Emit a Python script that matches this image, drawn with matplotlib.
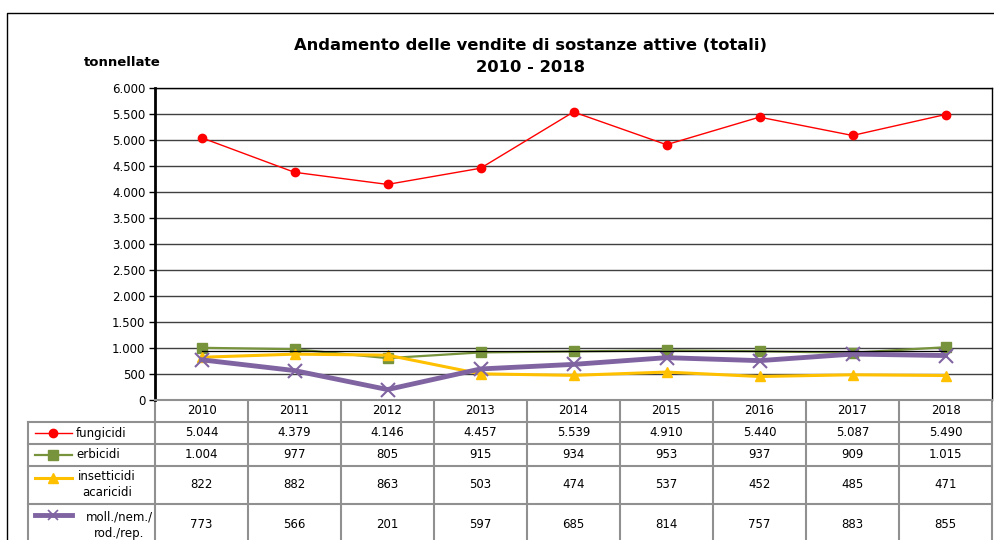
import matplotlib.pyplot as plt
import numpy as np
from matplotlib.ticker import FuncFormatter
from matplotlib.transforms import blended_transform_factory

# dati (tonnellate)
anni = ['2010', '2011', '2012', '2013', '2014', '2015', '2016', '2017', '2018']
fungicidi = [5044, 4379, 4146, 4457, 5539, 4910, 5440, 5087, 5490]
erbicidi = [1004, 977, 805, 915, 934, 953, 937, 909, 1015]
insetticidi = [822, 882, 863, 503, 474, 537, 452, 485, 471]
molluschicidi = [773, 566, 201, 597, 685, 814, 757, 883, 855]

nomi = ['fungicidi', 'erbicidi', 'insetticidi\nacaricidi', 'moll./nem./\nrod./rep.']
serie = [fungicidi, erbicidi, insetticidi, molluschicidi]
colori = ['#ff0000', '#77933c', '#ffc000', '#8064a2']
marker = ['o', 's', '^', 'x']
spessori = [1.0, 1.6, 2.2, 3.5]
dim_marker = [6, 7, 7, 10]


def fmt(v):
    return f"{int(v):,}".replace(',', '.')


W, H = 994, 540
fig = plt.figure(figsize=(W / 100, H / 100), dpi=100)

# overlay in pixel per cornice e tabella
ov = fig.add_axes([0, 0, 1, 1], zorder=0)
ov.set_xlim(0, W)
ov.set_ylim(H, 0)
ov.axis('off')

ax = fig.add_axes([155 / W, 1 - 400 / H, 837 / W, 312 / H], zorder=1)
x = np.arange(len(anni))

for s, c, m, lw, ms in zip(serie, colori, marker, spessori, dim_marker):
    if m == 'x':
        ax.plot(x, s, color=c, lw=lw, marker=m, ms=ms, mew=1.5, zorder=3)
    else:
        ax.plot(x, s, color=c, lw=lw, marker=m, ms=ms, zorder=3)

# linea media erbicidi
media = np.mean(erbicidi)
ax.plot([x[0], x[-1]], [media, media], color='black', lw=0.9, zorder=4)

ax.set_xlim(-0.5, len(anni) - 0.5)
ax.set_ylim(0, 6000)
ax.set_yticks(np.arange(0, 6001, 500))
ax.yaxis.set_major_formatter(FuncFormatter(lambda v, p: fmt(v)))
ax.tick_params(axis='y', labelsize=8.5, length=4, width=1, pad=3)
ax.set_xticks([])
ax.grid(axis='y', color='#404040', lw=1)
ax.set_axisbelow(True)
ax.spines['left'].set_linewidth(2)
ax.spines['top'].set_linewidth(1)
ax.spines['right'].set_linewidth(1)
ax.spines['bottom'].set_color('#909090')
ax.spines['bottom'].set_linewidth(1.5)

# cornice esterna
ov.plot([7, 7, W + 5], [H + 5, 13, 13], color='black', lw=1)

# titolo
ov.text(531, 45, 'Andamento delle vendite di sostanze attive (totali)', ha='center', va='center',
        fontsize=11.8, fontweight='bold')
ov.text(531, 67, '2010 - 2018', ha='center', va='center', fontsize=11.8, fontweight='bold')
ov.text(122, 62, 'tonnellate', ha='center', va='center', fontsize=9.5, fontweight='bold')

# tabella dati
tr = blended_transform_factory(ax.transData, ov.transData)
righe = [400, 422, 444, 466, 504, 544]
grigio = '#909090'
x_sx = -0.5
x_dx = len(anni) - 0.5

# linee orizzontali
for r in righe[1:]:
    ov.plot([28, 155], [r, r], color=grigio, lw=1.5)
    ov.plot([x_sx, x_dx], [r, r], color=grigio, lw=1.5, transform=tr)
# linee verticali
for i in range(len(anni) + 1):
    ov.plot([i - 0.5, i - 0.5], [righe[0], righe[-1]], color=grigio, lw=1.5, transform=tr)
ov.plot([28, 28], [righe[1], righe[-1]], color=grigio, lw=1.5)

for i, a in enumerate(anni):
    ov.text(i, (righe[0] + righe[1]) / 2, a, ha='center', va='center', fontsize=8.5, transform=tr)

for k, s in enumerate(serie):
    yc = (righe[k + 1] + righe[k + 2]) / 2
    for i, v in enumerate(s):
        ov.text(i, yc, fmt(v), ha='center', va='center', fontsize=8.5, transform=tr)

# etichette legenda
pos_legenda = [(433, 76, 'left'), (455, 76, 'left'), (485, 107, 'center'), (525, 119, 'center')]
campione_y = [433, 455, 478, 515]
for k, nome in enumerate(nomi):
    yl, xl, ha = pos_legenda[k]
    ov.text(xl, yl, nome, ha=ha, va='center', fontsize=8.5, linespacing=1.3,
            multialignment='center')
    ov.plot([35, 72], [campione_y[k], campione_y[k]], color=colori[k], lw=spessori[k])
    if marker[k] == 'x':
        ov.plot([53], [campione_y[k]], marker='x', ms=dim_marker[k] * 0.7, mew=1.2, color=colori[k])
    else:
        ov.plot([53], [campione_y[k]], marker=marker[k], ms=dim_marker[k], color=colori[k])

fig.savefig('out.png', dpi=100)
